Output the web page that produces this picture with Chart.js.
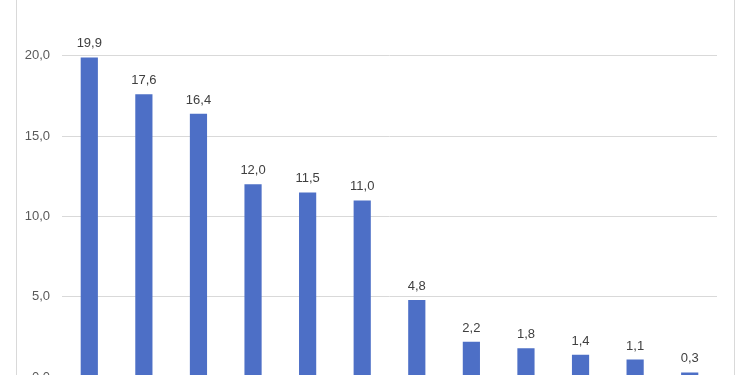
<!DOCTYPE html>
<html>
<head>
<meta charset="utf-8">
<script src="https://cdn.jsdelivr.net/npm/chart.js@4"></script>
<style>
  html, body { margin: 0; padding: 0; background: #fff; overflow: hidden; }
  #wrap { width: 750px; height: 375px; overflow: hidden; }
</style>
</head>
<body>
<div id="wrap">
  <canvas id="grafico" width="750" height="397"></canvas>
</div>
<script>
// categorias (os rótulos do eixo x ficam fora da imagem recortada)
const categorias = ['1', '2', '3', '4', '5', '6', '7', '8', '9', '10', '11', '12'];
const valores = [19.9, 17.6, 16.4, 12.0, 11.5, 11.0, 4.8, 2.2, 1.8, 1.4, 1.1, 0.3];
const ticksY = [0, 5, 10, 15, 20];

const fmt = v => v.toFixed(1).replace('.', ',');

// moldura cinza do gráfico (bordas esquerda e direita)
const moldura = {
    id: 'moldura',
    beforeDraw(chart) {
        const ctx = chart.ctx;
        ctx.save();
        ctx.strokeStyle = '#d9d9d9';
        ctx.lineWidth = 1;
        ctx.beginPath();
        ctx.moveTo(16.5, 0);
        ctx.lineTo(16.5, chart.height);
        ctx.moveTo(734.5, 0);
        ctx.lineTo(734.5, chart.height);
        ctx.stroke();
        ctx.restore();
    }
};

// rótulos de dados acima das barras
const rotulos = {
    id: 'rotulos',
    afterDatasetsDraw(chart) {
        const ctx = chart.ctx;
        ctx.save();
        ctx.font = '13px "Liberation Sans", sans-serif';
        ctx.fillStyle = '#404040';
        ctx.textAlign = 'center';
        ctx.textBaseline = 'alphabetic';
        chart.getDatasetMeta(0).data.forEach((bar, i) => {
            ctx.fillText(fmt(valores[i]), bar.x, bar.y - 10);
        });
        ctx.restore();
    }
};

const ctx = document.getElementById('grafico').getContext('2d');
new Chart(ctx, {
    type: 'bar',
    data: {
        labels: categorias,
        datasets: [{
            data: valores,
            backgroundColor: '#4d6fc6',
            categoryPercentage: 1,
            barPercentage: 0.315
        }]
    },
    options: {
        responsive: false,
        animation: false,
        devicePixelRatio: 1,
        layout: { padding: { left: 0, right: 33, top: 0, bottom: 0 } },
        plugins: { legend: { display: false }, tooltip: { enabled: false } },
        scales: {
            x: {
                ticks: { display: false },
                grid: { display: false },
                border: { display: false }
            },
            y: {
                min: 0,
                max: 22.24,
                afterBuildTicks: scale => {
                    scale.ticks = ticksY.map(v => ({ value: v }));
                },
                afterFit: scale => { scale.width = 62; },
                ticks: {
                    callback: v => fmt(v),
                    color: '#595959',
                    font: { family: 'Liberation Sans', size: 13 },
                    padding: 12
                },
                grid: { color: '#d9d9d9', drawTicks: false },
                border: { display: false }
            }
        }
    },
    plugins: [moldura, rotulos]
});
</script>
</body>
</html>
